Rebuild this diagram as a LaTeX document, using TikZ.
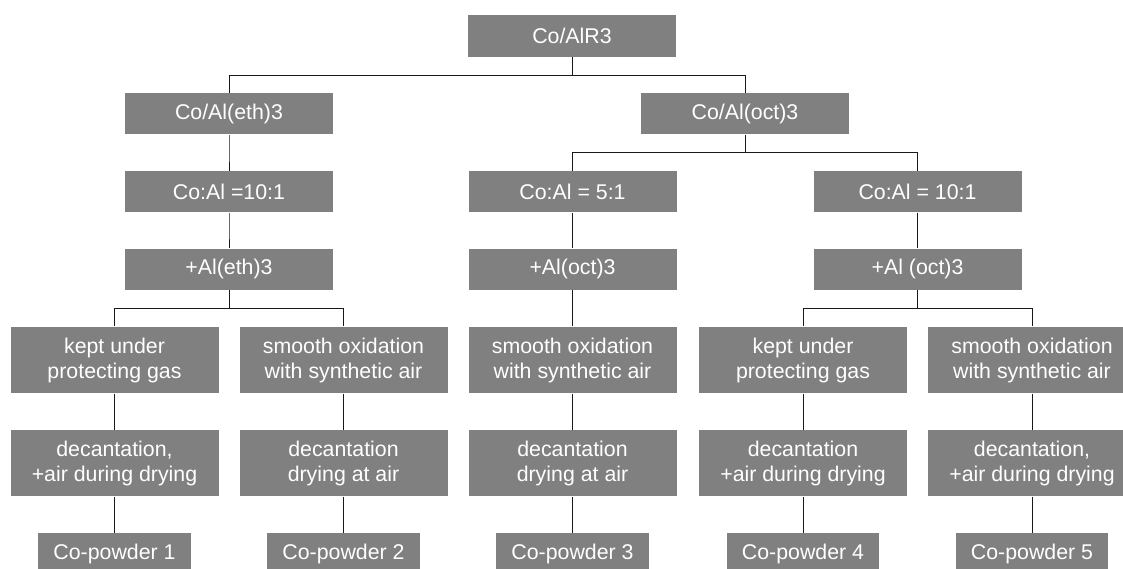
\documentclass[tikz,border=0pt]{standalone}
\usepackage{fontspec}
\setmainfont{Liberation Sans}
\usetikzlibrary{trees}

\begin{document}
\begin{tikzpicture}[
  level 1/.style = {grow via three points = {one child at (0pt,-58.4pt)
      and two children at (-257.25pt,-58.4pt) and (129.75pt,-58.4pt)}},
  level 2/.style = {grow via three points = {one child at (0pt,-58.4pt)
      and two children at (-129.375pt,-58.4pt) and (129.375pt,-58.4pt)}},
  level 3/.style = {grow via three points = {one child at (0pt,-58.4pt)
      and two children at (-85.875pt,-58.4pt) and (85.875pt,-58.4pt)}},
  level 4/.style = {grow via three points = {one child at (0pt,-68pt)
      and two children at (-85.875pt,-68pt) and (85.875pt,-68pt)}},
  level 5/.style = {grow via three points = {one child at (0pt,-77.3pt)
      and two children at (-85.875pt,-77.3pt) and (85.875pt,-77.3pt)}},
  level 6/.style = {grow via three points = {one child at (0pt,-67.8pt)
      and two children at (-85.875pt,-67.8pt) and (85.875pt,-67.8pt)}},
  edge from parent/.style = {draw, line width = 0.75pt, black!90},
  edge from parent path = {(\tikzparentnode.south) -- +(0pt,-13.7pt) -| (\tikzchildnode.north)},
  every node/.style = {fill = black!50, text = white, align = center,
    minimum width = 156pt, minimum height = 31.1pt, inner sep = 2pt,
    font = \fontsize{16pt}{18.75pt}\selectfont},
  tallbox/.style = {minimum height = 50pt},
  powder/.style = {minimum width = 114.4pt},
  ]
  \clip (0pt,0pt) rectangle (842.25pt,-426pt);
  \node (root) at (429pt,-26.85pt) {Co/AlR3}
  child { node (eth) {Co/Al(eth)3}
          child { node (ethratio) {Co:Al =10:1}
                  child { node (ethadd) {+Al(eth)3}
                          child { node[tallbox] (keptA) {kept under\\protecting gas}
                                  child { node[tallbox] (decA) {decantation,\\+air during drying}
                                          child { node[powder] (powA) {Co-powder 1} }
                                        }
                                }
                          child { node[tallbox] (oxB) {smooth oxidation\\with synthetic air}
                                  child { node[tallbox] (decB) {decantation\\drying at air}
                                          child { node[powder] (powB) {Co-powder 2} }
                                        }
                                }
                        }
                }
        }
  child { node (oct) {Co/Al(oct)3}
          child { node (octratioA) {Co:Al = 5:1}
                  child { node (octaddA) {+Al(oct)3}
                          child { node[tallbox] (oxC) {smooth oxidation\\with synthetic air}
                                  child { node[tallbox] (decC) {decantation\\drying at air}
                                          child { node[powder] (powC) {Co-powder 3} }
                                        }
                                }
                        }
                }
          child { node (octratioB) {Co:Al = 10:1}
                  child { node (octaddB) {+Al (oct)3}
                          child { node[tallbox] (keptD) {kept under\\protecting gas}
                                  child { node[tallbox] (decD) {decantation\\+air during drying}
                                          child { node[powder] (powD) {Co-powder 4} }
                                        }
                                }
                          child { node[tallbox] (oxE) {smooth oxidation\\with synthetic air}
                                  child { node[tallbox] (decE) {decantation,\\+air during drying}
                                          child { node[powder] (powE) {Co-powder 5} }
                                        }
                                }
                        }
                }
        };
\end{tikzpicture}
\end{document}
